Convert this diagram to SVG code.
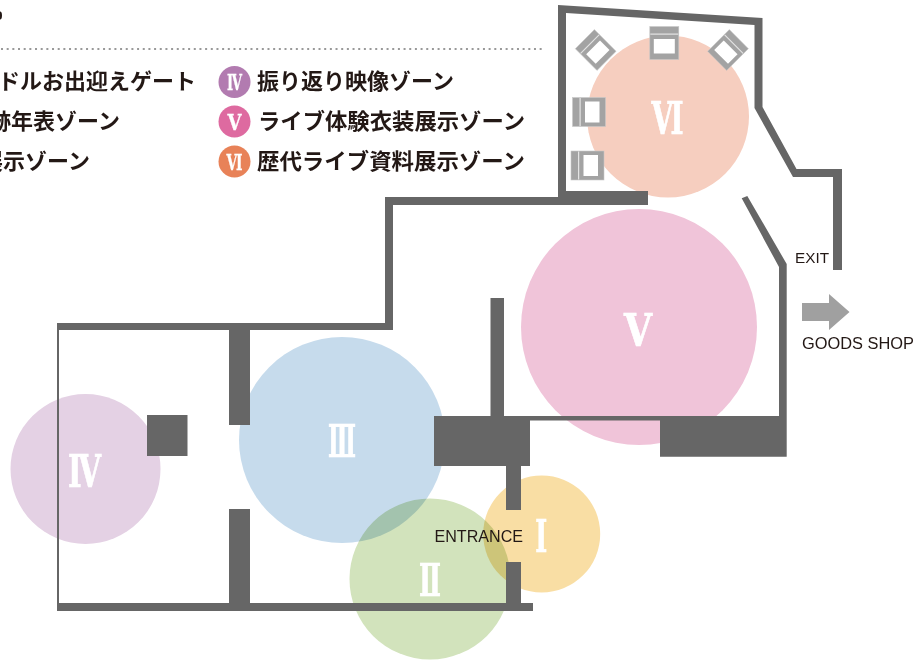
<svg xmlns="http://www.w3.org/2000/svg" width="921" height="661" viewBox="0 0 921 661">
<style>
.zone{mix-blend-mode:multiply}
.wall{fill:#666}
.num{font-family:"DejaVu Serif Condensed","DejaVu Serif",serif;font-weight:700;fill:#fff;text-anchor:middle}
.big{font-size:44px;stroke:#fff;stroke-width:.7px}
.small{font-size:23px;stroke:#fff;stroke-width:.3px}
.leg{font-family:"Noto Sans CJK JP",sans-serif;font-weight:700;font-size:22px;fill:#231815}
.lab{font-family:"Liberation Sans",sans-serif;fill:#231815}
.chair-o{fill:#a3a3a3;stroke:#c8c8c8;stroke-width:.6}
</style>
<defs>
<g id="chair">
<rect class="chair-o" x="-14.5" y="-16.5" width="29" height="33"/>
<rect x="-14" y="-9.5" width="28" height="1.2" fill="#e4e4e4"/>
<rect x="-10.5" y="-4" width="21" height="14.5" fill="#fff"/>
</g>
</defs>
<rect width="921" height="661" fill="#fff"/>
<g id="legend">
<ellipse cx="0" cy="15.500" rx="2" ry="4" fill="#231815"/>
<line x1="1" y1="49" x2="543" y2="49" stroke="#999" stroke-width="2" stroke-dasharray="2 3.670"/>
<text class="leg" x="-45" y="89">アイドルお出迎えゲート</text>
<text class="leg" x="-33" y="129">軌跡年表ゾーン</text>
<text class="leg" x="-19" y="169">展示ゾーン</text>
<g id="badge-4"><circle cx="234.500" cy="82" r="16" fill="#b27bb0"/><text class="num small" x="234.500" y="90" textLength="15" lengthAdjust="spacingAndGlyphs">Ⅳ</text></g>
<g id="badge-5"><circle cx="234.500" cy="121.500" r="16" fill="#de6aa0"/><text class="num small" x="234.500" y="130" textLength="14" lengthAdjust="spacingAndGlyphs">Ⅴ</text></g>
<g id="badge-6"><circle cx="234.500" cy="161.500" r="16" fill="#e88258"/><text class="num small" x="234.500" y="170" textLength="16" lengthAdjust="spacingAndGlyphs">Ⅵ</text></g>
<text class="leg" x="257" y="89">振り返り映像ゾーン</text>
<text class="leg" x="258" y="129" textLength="267" lengthAdjust="spacingAndGlyphs">ライブ体験衣装展示ゾーン</text>
<text class="leg" x="257" y="169" textLength="268" lengthAdjust="spacingAndGlyphs">歴代ライブ資料展示ゾーン</text>
</g>
<g id="zones">
<circle id="zone-1" class="zone" cx="541.700" cy="534" r="58.500" fill="#f9dea4"/>
<circle id="zone-2" class="zone" cx="430" cy="579" r="80.500" fill="#d2e3bc"/>
<circle id="zone-3" class="zone" cx="342" cy="440" r="103" fill="#c6dbec"/>
<circle id="zone-4" class="zone" cx="85.500" cy="469" r="75" fill="#e4d1e4"/>
<circle id="zone-5" class="zone" cx="639" cy="327" r="118" fill="#f0c4d9"/>
<circle id="zone-6" class="zone" cx="668" cy="116.500" r="81" fill="#f6cebf"/>
</g>
<g id="walls">
<path class="wall" d="M558 5L762.500 18V107L796.500 169H842V270H833V177H793L754.500 108V25L566 13V191H648V205H393V330H59V603H533V611H57V323H385V197H558Z"/>
<rect class="wall" x="229" y="329" width="21" height="96"/>
<rect class="wall" x="229" y="509" width="21" height="96"/>
<rect class="wall" x="147" y="415" width="40.500" height="41"/>
<rect class="wall" x="490.500" y="298" width="13.500" height="120"/>
<rect class="wall" x="434" y="416" width="96" height="50"/>
<rect class="wall" x="506" y="465" width="15" height="45"/>
<rect class="wall" x="506" y="562" width="15" height="43"/>
<path class="wall" d="M530 416H779V267L741.700 198.300L747.300 196L786.700 264V456.700H660V420.500H530Z"/>
</g>
<g id="chairs">
<use href="#chair" transform="translate(664.300 43)"/>
<use href="#chair" transform="translate(595.700 50) rotate(-45) scale(.93)"/>
<use href="#chair" transform="translate(728 50) rotate(45) scale(.93)"/>
<use href="#chair" transform="translate(589 112) rotate(-90)"/>
<use href="#chair" transform="translate(587.500 165.500) rotate(-90)"/>
</g>
<g id="numerals">
<text class="num big" x="541.200" y="552" textLength="12" lengthAdjust="spacingAndGlyphs">Ⅰ</text>
<text class="num big" x="430" y="596" textLength="22" lengthAdjust="spacingAndGlyphs">Ⅱ</text>
<text class="num big" x="342" y="457" textLength="28" lengthAdjust="spacingAndGlyphs">Ⅲ</text>
<text class="num big" x="84.500" y="487" textLength="33" lengthAdjust="spacingAndGlyphs">Ⅳ</text>
<text class="num big" x="638" y="346" textLength="28" lengthAdjust="spacingAndGlyphs">Ⅴ</text>
<text class="num big" x="667.500" y="134" textLength="32" lengthAdjust="spacingAndGlyphs">Ⅵ</text>
</g>
<g id="labels">
<text class="lab" x="434.500" y="542" font-size="16" textLength="88.500" lengthAdjust="spacingAndGlyphs">ENTRANCE</text>
<text class="lab" x="795" y="263" font-size="15" textLength="34" lengthAdjust="spacingAndGlyphs">EXIT</text>
<text class="lab" x="802" y="349" font-size="16" textLength="112" lengthAdjust="spacingAndGlyphs">GOODS SHOP</text>
<path id="exit-arrow" d="M802 303H829V294L849.500 312L829 330V321H802Z" fill="#a0a0a0"/>
</g>
</svg>
